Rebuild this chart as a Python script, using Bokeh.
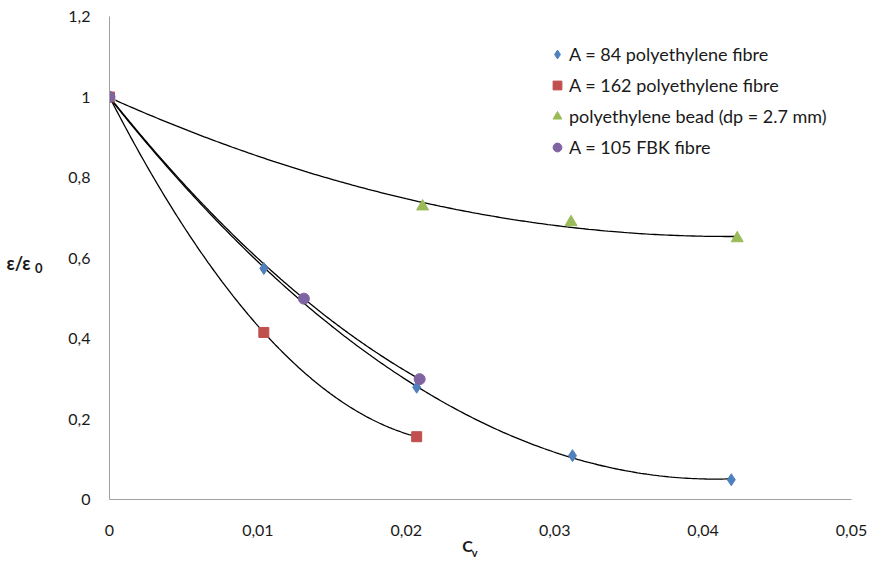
import numpy as np
from bokeh.plotting import figure
from bokeh.models import Range1d, FixedTicker, Legend, LegendItem, LinearAxis
from bokeh.embed import file_html
from bokeh.resources import INLINE

# data
x_pe84 = [0.0, 0.0104, 0.0207, 0.0312, 0.0419]
y_pe84 = [1.0, 0.574, 0.279, 0.109, 0.049]
x_pe162 = [0.0, 0.0104, 0.0207]
y_pe162 = [1.0, 0.415, 0.156]
x_bead = [0.0, 0.0211, 0.0311, 0.0423]
y_bead = [1.0, 0.728, 0.689, 0.649]
x_fbk = [0.0, 0.0131, 0.0209]
y_fbk = [1.0, 0.499, 0.299]

x_ticks = [0, 0.01, 0.02, 0.03, 0.04, 0.05]
x_tick_labels = ["0", "0,01", "0,02", "0,03", "0,04", "0,05"]
y_ticks = [0, 0.2, 0.4, 0.6, 0.8, 1.0, 1.2]
y_tick_labels = ["0", "0,2", "0,4", "0,6", "0,8", "1", "1,2"]

labels = ["A = 84 polyethylene fibre", "A = 162 polyethylene fibre",
          "polyethylene bead (dp = 2.7 mm)", "A = 105 FBK fibre"]
colors = ["#4F81BD", "#C0504D", "#9BBB59", "#8064A2"]

FONT = "Lato"
TXT = "#1a1a1a"

p = figure(width=881, height=561, output_backend="svg", toolbar_location=None,
           x_range=Range1d(0, 0.05), y_range=Range1d(0, 1.2),
           min_border_left=109, min_border_right=30, min_border_top=16,
           min_border_bottom=61)
p.outline_line_color = None
p.xgrid.grid_line_color = None
p.ygrid.grid_line_color = None

def style(ax, size, bold=False, line=True):
    ax.axis_line_color = "#A0A0A0" if line else None
    ax.major_tick_line_color = None
    ax.minor_tick_line_color = None
    ax.major_tick_out = 0
    ax.minor_tick_out = 0
    ax.major_label_text_font = FONT
    ax.major_label_text_font_size = size
    ax.major_label_text_color = TXT
    if bold:
        ax.major_label_text_font_style = "bold"

style(p.xaxis[0], "16px")
style(p.yaxis[0], "16px")

p.xaxis.ticker = FixedTicker(ticks=x_ticks)
p.xaxis.major_label_overrides = dict(zip(x_ticks, x_tick_labels))
p.xaxis.major_label_standoff = 25

p.yaxis.ticker = FixedTicker(ticks=y_ticks)
p.yaxis.major_label_overrides = dict(zip(y_ticks, y_tick_labels))
p.yaxis.major_label_standoff = 19

# axis titles, each placed as a single tick label on an extra, line-less axis
def title_axis(side, pos, text, size, standoff):
    ax = LinearAxis(ticker=FixedTicker(ticks=[pos]), major_label_overrides={pos: text},
                    major_label_standoff=standoff)
    style(ax, size, bold=True, line=False)
    p.add_layout(ax, side)

title_axis("left", 0.575, "0", "13px", 23)     # subscript of ε/ε0
title_axis("left", 0.588, "ε/ε", "18px", 1)
title_axis("below", 0.02412, "C", "16px", -3)
title_axis("below", 0.02460, "v", "11px", -12)  # subscript of Cv

# trendlines (2nd order polynomial fits, as in the spreadsheet)
for xs, ys in [(x_pe84, y_pe84), (x_pe162, y_pe162), (x_bead, y_bead), (x_fbk, y_fbk)]:
    c = np.polyfit(xs, ys, 2)
    xx = np.linspace(0, max(xs), 200)
    p.line(xx, np.polyval(c, xx), line_color="black", line_width=1.3)

r1 = p.scatter(x_pe84, y_pe84, marker="diamond", size=12, color=colors[0])
r2 = p.scatter(x_pe162, y_pe162, marker="square", size=10, color=colors[1])
r3 = p.scatter(x_bead, y_bead, marker="triangle", size=12, color=colors[2])
r4 = p.scatter(x_fbk, y_fbk, marker="circle", size=11, color=colors[3])

legend = Legend(items=[LegendItem(label=l, renderers=[r]) for l, r in zip(labels, [r1, r2, r3, r4])],
                location=(436, 341), border_line_color=None, background_fill_alpha=0,
                label_text_font=FONT, label_text_font_size="18px", label_text_color=TXT,
                glyph_width=24, glyph_height=22, label_height=20, spacing=9,
                padding=0, margin=0, label_standoff=0)
p.add_layout(legend)

open("out.html", "w").write(file_html(p, INLINE))
